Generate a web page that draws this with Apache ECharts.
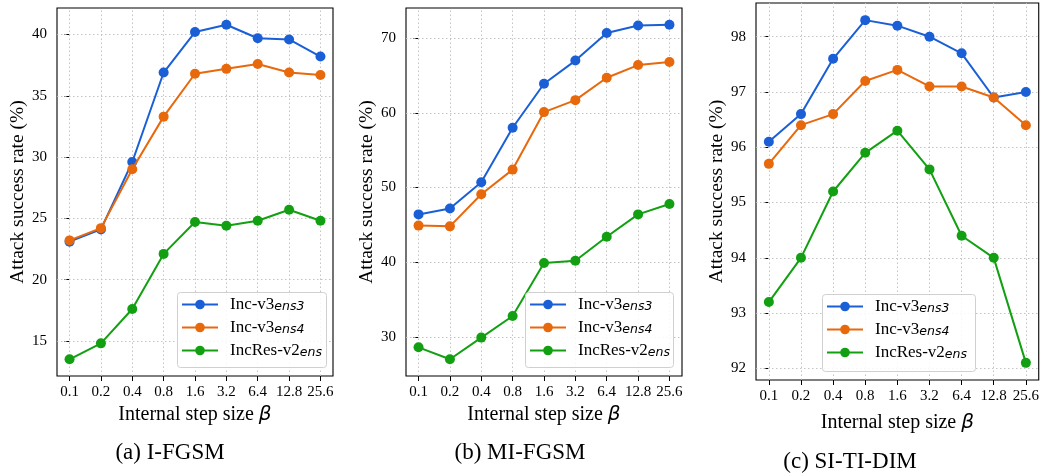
<!DOCTYPE html>
<html>
<head>
<meta charset="utf-8">
<script src="https://cdn.jsdelivr.net/npm/echarts@6/dist/echarts.min.js"></script>
<style>
  html, body { margin: 0; padding: 0; background: #fff; }
  #chart { width: 1042px; height: 474px; }
</style>
</head>
<body>
<div id="chart"></div>
<script>
// step sizes (x categories)
const steps = ['0.1', '0.2', '0.4', '0.8', '1.6', '3.2', '6.4', '12.8', '25.6'];
const seriesNames = ['Inc-v3ens3', 'Inc-v3ens4', 'IncRes-v2ens'];

// (a) I-FGSM
const fgsmEns3 = [23.1, 24.1, 29.6, 36.9, 40.2, 40.8, 39.7, 39.6, 38.2];
const fgsmEns4 = [23.2, 24.2, 29.0, 33.3, 36.8, 37.2, 37.6, 36.9, 36.7];
const fgsmResEns = [13.5, 14.8, 17.6, 22.1, 24.7, 24.4, 24.8, 25.7, 24.8];
const fgsmTicks = [15, 20, 25, 30, 35, 40];

// (b) MI-FGSM
const mifgsmEns3 = [46.4, 47.2, 50.7, 58.0, 63.9, 67.0, 70.7, 71.7, 71.8];
const mifgsmEns4 = [44.9, 44.8, 49.1, 52.4, 60.1, 61.7, 64.7, 66.4, 66.8];
const mifgsmResEns = [28.6, 27.0, 29.9, 32.8, 39.9, 40.2, 43.4, 46.4, 47.8];
const mifgsmTicks = [30, 40, 50, 60, 70];

// (c) SI-TI-DIM
const sitiEns3 = [96.1, 96.6, 97.6, 98.3, 98.2, 98.0, 97.7, 96.9, 97.0];
const sitiEns4 = [95.7, 96.4, 96.6, 97.2, 97.4, 97.1, 97.1, 96.9, 96.4];
const sitiResEns = [93.2, 94.0, 95.2, 95.9, 96.3, 95.6, 94.4, 94.0, 92.1];
const sitiTicks = [92, 93, 94, 95, 96, 97, 98];

const captions = ['(a) I-FGSM', '(b) MI-FGSM', '(c) SI-TI-DIM'];

const colors = ['#1a5fd6', '#e8680c', '#12a012'];
const serif = '"Liberation Serif", "DejaVu Serif", serif';

const panels = [
  { data: [fgsmEns3, fgsmEns4, fgsmResEns], ticks: fgsmTicks,
    grid: { left: 57, top: 8, width: 276, height: 368 },
    legend: { left: 177, top: 292, width: 149, height: 75 },
    caption: { x: 170, y: 441 }, xGap: 29 },
  { data: [mifgsmEns3, mifgsmEns4, mifgsmResEns], ticks: mifgsmTicks,
    grid: { left: 406, top: 8, width: 276, height: 368 },
    legend: { left: 525, top: 292, width: 148, height: 75 },
    caption: { x: 520, y: 441 }, xGap: 29 },
  { data: [sitiEns3, sitiEns4, sitiResEns], ticks: sitiTicks,
    grid: { left: 756, top: 3, width: 285, height: 377 },
    legend: { left: 822, top: 294, width: 153, height: 77 },
    caption: { x: 850, y: 450 }, xGap: 33 }
];

// matplotlib-like 5% margins
function yRange(arrs) {
  const all = [].concat(...arrs);
  const lo = Math.min(...all), hi = Math.max(...all);
  const m = (hi - lo) * 0.05;
  return [lo - m, hi + m];
}

const xIdx = steps.map((s, i) => i);
const gridLine = { color: '#bdbdbd', type: [1.5, 2.5], width: 0.9 };

const chart = echarts.init(document.getElementById('chart'), null, { renderer: 'canvas' });

const grid = [], xAxis = [], yAxis = [], series = [], legend = [], graphic = [], title = [];

panels.forEach((p, k) => {
  grid.push(Object.assign({ show: true, borderColor: '#000', borderWidth: 1.1, backgroundColor: 'transparent' }, p.grid));
  const [ymin, ymax] = yRange(p.data);
  xAxis.push({
    type: 'value', gridIndex: k, min: -0.4, max: 8.4,
    name: '{t|Internal step size }{b|β}',
    nameLocation: 'middle', nameGap: p.xGap,
    nameTextStyle: {
      rich: {
        t: { fontFamily: serif, fontSize: 20, color: '#000' },
        b: { fontFamily: '"DejaVu Sans"', fontStyle: 'italic', fontSize: 20, color: '#000' }
      }
    },
    axisLine: { show: false },
    axisTick: { show: true, length: 5, customValues: xIdx, lineStyle: { color: '#000', width: 1 } },
    axisLabel: { customValues: xIdx, formatter: v => steps[Math.round(v)], fontFamily: serif, fontSize: 15, color: '#000', margin: 9 },
    splitLine: { show: false }
  });
  yAxis.push({
    type: 'value', gridIndex: k, min: ymin, max: ymax,
    name: 'Attack success rate (%)',
    nameLocation: 'middle', nameGap: 29,
    nameTextStyle: { fontFamily: serif, fontSize: 19.5, color: '#000' },
    axisLine: { show: false },
    axisTick: { show: true, length: 5, customValues: p.ticks, lineStyle: { color: '#000', width: 1 } },
    axisLabel: { customValues: p.ticks, fontFamily: serif, fontSize: 15, color: '#000', margin: 10 },
    splitLine: { show: false }
  });
  // dotted grid lines at tick positions, kept under the data
  series.push({
    type: 'line', xAxisIndex: k, yAxisIndex: k, data: [], z: 1, silent: true,
    markLine: {
      silent: true, symbol: 'none', label: { show: false }, animation: false, z: 1,
      lineStyle: gridLine,
      data: xIdx.map(i => ({ xAxis: i })).concat(p.ticks.map(t => ({ yAxis: t })))
    }
  });
  p.data.forEach((vals, j) => {
    series.push({
      name: seriesNames[j], type: 'line', xAxisIndex: k, yAxisIndex: k,
      data: vals.map((v, i) => [xIdx[i], v]),
      color: colors[j], symbol: 'circle', symbolSize: 10, showSymbol: true,
      lineStyle: { width: 2, color: colors[j] },
      itemStyle: { color: colors[j] },
      z: 3 + j, animation: false
    });
  });
  graphic.push({
    type: 'rect', left: p.legend.left, top: p.legend.top, z: 10,
    shape: { width: p.legend.width, height: p.legend.height, r: 3 },
    style: { fill: 'rgba(255,255,255,0.85)', stroke: '#d0d0d0', lineWidth: 1 }
  });
  legend.push({
    orient: 'vertical', left: p.legend.left + 4, top: p.legend.top + 4, z: 11,
    padding: 0, itemWidth: 36, itemHeight: 12, itemGap: 5.5,
    data: seriesNames,
    formatter: name => {
      const base = name.replace(/ens\d?$/, '');
      const sub = name.slice(base.length);
      return '{a|' + base + '}{s|' + sub + '}';
    },
    textStyle: {
      rich: {
        a: { fontFamily: serif, fontSize: 17, color: '#000', lineHeight: 18, padding: [0, 0, 0, 7] },
        s: { fontFamily: '"DejaVu Sans"', fontStyle: 'italic', fontSize: 12.5, color: '#000', lineHeight: 11, verticalAlign: 'bottom' }
      }
    }
  });
  title.push({
    text: captions[k], left: p.caption.x, top: p.caption.y, textAlign: 'center', padding: 0,
    textStyle: { fontFamily: serif, fontSize: 23, fontWeight: 'normal', color: '#000' }
  });
});

chart.setOption({
  animation: false,
  backgroundColor: '#fff',
  title, grid, xAxis, yAxis, series, legend, graphic
});
</script>
</body>
</html>
